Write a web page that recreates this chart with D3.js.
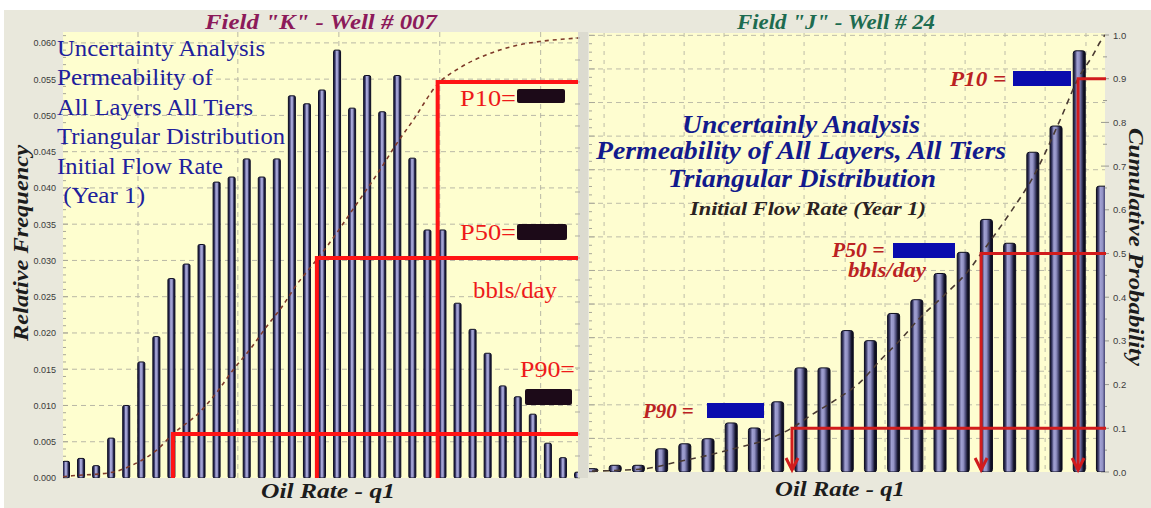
<!DOCTYPE html>
<html><head><meta charset="utf-8">
<script src="https://cdn.jsdelivr.net/npm/d3@7"></script>
<style>html,body{margin:0;padding:0;background:#fff;}svg{display:block;}</style>
</head><body>
<svg id="c" width="1151" height="508"></svg>
<script>
// ---------------- DATA : left panel (Field "K") ----------------
const leftTitle = 'Field "K" - Well # 007';
const leftBins = [0,1,2,3,4,5,6,7,8,9,10,11,12,13,14,15,16,17,18,19,20,21,22,23,24,25,26,27,28,29,30,31,32,33,34];
const leftFreq = [0.0023,0.0027,0.0017,0.0055,0.0100,0.0160,0.0195,0.0275,0.0295,0.0322,
                  0.0408,0.0415,0.0440,0.0415,0.0440,0.0527,0.0516,0.0535,0.0590,0.0510,
                  0.0555,0.0505,0.0555,0.0441,0.0342,0.0342,0.0241,0.0205,0.0172,0.0127,
                  0.0112,0.0088,0.0048,0.0028,0.0008];
const leftCdfBin = [-0.2,0.40,2.92,4.45,6.04,7.10,8.89,10.02,11.08,12.21,13.34,14.40,15.33,16.39,17.52,19.04,20.84,21.96,23.03,24.68,26.14,27.94,29.66,31.45,33.24,34.0];
const leftCdfVal = [0.003,0.005,0.012,0.030,0.064,0.100,0.150,0.195,0.245,0.292,0.345,0.392,0.440,0.485,0.535,0.610,0.700,0.760,0.812,0.895,0.932,0.962,0.981,0.992,0.998,1.0];
const leftYTicks = [0,0.005,0.010,0.015,0.020,0.025,0.030,0.035,0.040,0.045,0.050,0.055,0.060];
const leftYTickLabels = ["0.000","0.005","0.010","0.015","0.020","0.025","0.030","0.035","0.040","0.045","0.050","0.055","0.060"];
const leftGridBins = [4.78,11.41,18.12,24.82,31.52];
const leftPctNames = ["P90","P50","P10"];
const leftPctCdf = [0.1,0.5,0.9];
const leftPctBin = [7.10,16.66,24.68];
const leftNotes = ["Uncertainty Analysis","Permeability of","All Layers All Tiers","Triangular Distribution","Initial Flow Rate"," (Year 1)"];

// ---------------- DATA : right panel (Field "J") ----------------
const rightTitle = 'Field "J" - Well # 24';
const rightBins = [0,1,2,3,4,5,6,7,8,9,10,11,12,13,14,15,16,17,18,19,20,21,22];
const rightFreq = [0.0010,0.0020,0.0020,0.0069,0.0084,0.0099,0.0146,0.0131,0.0209,0.0310,
                   0.0310,0.0421,0.0391,0.0472,0.0513,0.0591,0.0654,0.0752,0.0681,0.0952,
                   0.1030,0.1254,0.0851];
const rightCdfBin = [0.0,1.2,2.37,3.66,5.22,6.38,7.54,8.53,9.53,10.56,11.55,12.41,13.28,14.14,15.13,16.29,16.77,18.02,19.01,20.17,20.95,21.59,21.90,22.11];
const rightCdfVal = [0.002,0.004,0.008,0.023,0.041,0.057,0.074,0.098,0.133,0.167,0.205,0.255,0.302,0.353,0.402,0.465,0.500,0.593,0.675,0.805,0.900,0.954,0.984,1.0];
const rightCumTicks = [0,0.1,0.2,0.3,0.4,0.5,0.6,0.7,0.8,0.9,1.0];
const rightCumTickLabels = ["0.0","0.1","0.2","0.3","0.4","0.5","0.6","0.7","0.8","0.9","1.0"];
const rightFreqGrid = [0.01,0.02,0.03,0.04,0.05,0.06,0.07,0.08,0.09,0.10,0.11,0.12,0.13];
const rightGridBins = [0.52,2.24,3.97,5.69,7.41,9.14,10.91,12.63,14.35,16.08,17.80,19.53,21.29];
const rightPctNames = ["P90","P50","P10"];
const rightPctCdf = [0.1,0.5,0.9];
const rightPctBin = [8.62,16.77,20.95];
const rightNotes = ["Uncertainly Analysis","Permeability of All Layers, All Tiers","Triangular Distribution","Initial Flow Rate (Year 1)"];
const unitsLabel = "bbls/day";
const xLabel = "Oil Rate - q1";

// ---------------- DRAWING ----------------
const W = 1151, H = 508;
const SERIF = "'Liberation Serif','Times New Roman',serif";
const SANS = "'Liberation Sans',Arial,sans-serif";
const svg = d3.select("#c");
svg.append("rect").attr("width", W).attr("height", H).attr("fill", "#ffffff");
svg.append("rect").attr("x", 4).attr("y", 10).attr("width", W - 4).attr("height", H - 10).attr("fill", "#e9e8dc");

const defs = svg.append("defs");
function barGradient(id, stops) {
  const g = defs.append("linearGradient").attr("id", id).attr("x1", "0%").attr("x2", "100%").attr("y1", "0%").attr("y2", "0%");
  stops.forEach(s => g.append("stop").attr("offset", s[0]).attr("stop-color", s[1]));
}
barGradient("barL", [["0%","#141430"],["22%","#3a3a6a"],["40%","#a9a9da"],["62%","#9a9acb"],["80%","#2c2c55"],["100%","#0c0c1e"]]);
barGradient("barR", [["0%","#1a1a33"],["14%","#34345e"],["32%","#a0a0d2"],["50%","#9494c6"],["68%","#50507e"],["84%","#16162c"],["100%","#0a0a18"]]);

function txt(sel, str, x, y, o) {
  const t = sel.append("text").attr("x", x).attr("y", y).text(str)
    .attr("font-family", o.family || SERIF).attr("font-size", o.size)
    .attr("font-weight", o.weight || "normal").attr("font-style", o.style || "normal")
    .attr("fill", o.fill || "#000").attr("text-anchor", o.anchor || "start")
    .style("white-space", "pre");
  if (o.len) t.attr("textLength", o.len).attr("lengthAdjust", "spacingAndGlyphs");
  if (o.rot) t.attr("transform", `rotate(${o.rot},${x},${y})`);
  return t;
}

// ======== LEFT PANEL ========
const L = {x0: 63, x1: 578, y0: 478, y1: 32};
const lx = d3.scaleLinear().domain([-0.2, 34]).range([L.x0, L.x1]);
const ly = d3.scaleLinear().domain([0, 0.0615]).range([L.y0, L.y1]);
const lc = d3.scaleLinear().domain([0, 1.0136]).range([L.y0, L.y1]);
const gl = svg.append("g");
gl.append("rect").attr("x", L.x0).attr("y", L.y1).attr("width", L.x1 - L.x0).attr("height", L.y0 - L.y1).attr("fill", "#fefecf");
// right axis strip of left chart
gl.append("rect").attr("x", L.x1).attr("y", L.y1).attr("width", 10).attr("height", L.y0 - L.y1).attr("fill", "#dcdbd0");
defs.append("clipPath").attr("id", "clipL").append("rect").attr("x", L.x0).attr("y", L.y1).attr("width", L.x1 - L.x0).attr("height", L.y0 - L.y1);

// grid
gl.selectAll("line.hg").data(leftYTicks.slice(1)).join("line")
  .attr("x1", L.x0).attr("x2", L.x1).attr("y1", d => ly(d)).attr("y2", d => ly(d))
  .attr("stroke", "#b9b8a6").attr("stroke-width", 1).attr("stroke-dasharray", "5,4");
gl.selectAll("line.vg").data(leftGridBins).join("line")
  .attr("x1", d => lx(d)).attr("x2", d => lx(d)).attr("y1", L.y1).attr("y2", L.y0)
  .attr("stroke", "#b9b8a6").attr("stroke-width", 1).attr("stroke-dasharray", "5,4");
// minor ticks on left edge
gl.selectAll("line.mt").data(d3.range(0, 0.0611, 0.001)).join("line")
  .attr("x1", L.x0).attr("x2", (d, i) => L.x0 + (i % 5 === 0 ? 5 : 3)).attr("y1", d => ly(d)).attr("y2", d => ly(d))
  .attr("stroke", "#a9a898").attr("stroke-width", 1);
// ticks on the cumulative strip
gl.selectAll("line.ct").data(d3.range(0, 1.001, 0.05)).join("line")
  .attr("x1", L.x1 - 3).attr("x2", L.x1 + 2).attr("y1", d => lc(d)).attr("y2", d => lc(d))
  .attr("stroke", "#b0afa0").attr("stroke-width", 1);

// left axis labels
const axL = d3.axisLeft(ly).tickValues(leftYTicks).tickFormat((d, i) => leftYTickLabels[i]).tickSize(0).tickPadding(7);
const axLg = gl.append("g").attr("transform", `translate(${L.x0},0)`).call(axL);
axLg.select(".domain").remove();
axLg.selectAll("text").attr("font-family", SANS).attr("font-size", 9).attr("fill", "#3a3a3a");

const glc = gl.append("g").attr("clip-path", "url(#clipL)");
// bars
glc.selectAll("rect.bar").data(leftBins).join("rect")
  .attr("x", d => lx(d) - 3.5).attr("width", 7)
  .attr("y", (d, i) => ly(leftFreq[i])).attr("height", (d, i) => ly(0) - ly(leftFreq[i]))
  .attr("rx", 1.5).attr("fill", "url(#barL)").attr("stroke", "#0c0c22").attr("stroke-width", 1);
// cumulative dashed curve
const lCdf = leftCdfBin.map((b, i) => [b, leftCdfVal[i]]);
glc.append("path").datum(lCdf)
  .attr("d", d3.line().x(d => lx(d[0])).y(d => lc(d[1])).curve(d3.curveMonotoneX))
  .attr("fill", "none").attr("stroke", "#7e3a2a").attr("stroke-width", 1.6).attr("stroke-dasharray", "4,4");
// red percentile lines
glc.selectAll("path.pct").data(leftPctBin).join("path")
  .attr("d", (d, i) => `M${lx(d)},${L.y0 + 2}V${lc(leftPctCdf[i])}H${L.x1}`)
  .attr("fill", "none").attr("stroke", "#ff1414").attr("stroke-width", 4);

// left annotations
const blue = "#20209c";
const notesY = [56, 85, 115, 144, 174, 203];
const notesW = [208, 156, 196, 228, 166, 88];
leftNotes.forEach((s, i) => txt(gl, s, 57, notesY[i], {size: 23, fill: blue, len: notesW[i]}));
const redL = "#ee1a1a";
txt(gl, "P10=", 460, 106, {size: 23, fill: redL, len: 56});
txt(gl, "P50=", 460, 240, {size: 23, fill: redL, len: 56});
txt(gl, unitsLabel, 473, 298, {size: 23, fill: redL, len: 84});
txt(gl, "P90=", 520, 377, {size: 23, fill: redL, len: 55});
// redacted value boxes
const redactL = [[517, 89, 48, 14], [517, 224, 50, 16], [525, 389, 47, 16]];
gl.selectAll("rect.red").data(redactL).join("rect")
  .attr("x", d => d[0]).attr("y", d => d[1]).attr("width", d => d[2]).attr("height", d => d[3])
  .attr("rx", 2).attr("fill", "#1c0a18");

// titles and axis labels (left)
txt(gl, leftTitle, 321, 29, {size: 21, weight: "bold", style: "italic", fill: "#8c1a5a", anchor: "middle", len: 232});
txt(gl, "Relative Frequency", 28, 243, {size: 21, weight: "bold", style: "italic", fill: "#1c1c1c", anchor: "middle", len: 196, rot: -90});
txt(gl, xLabel, 328, 498, {size: 20, weight: "bold", style: "italic", fill: "#1c1c1c", anchor: "middle", len: 134});

// ======== RIGHT PANEL ========
const R = {x0: 589, x1: 1105, y0: 472, y1: 33};
const rx = d3.scaleLinear().domain([-0.13, 22.11]).range([R.x0, R.x1]);
const ry = d3.scaleLinear().domain([0, 0.1307]).range([R.y0, R.y1]);
const rc = d3.scaleLinear().domain([0, 1.0046]).range([R.y0, R.y1]);
const gr = svg.append("g");
gr.append("rect").attr("x", R.x0).attr("y", R.y1).attr("width", R.x1 - R.x0).attr("height", R.y0 - R.y1).attr("fill", "#fefdd0");
defs.append("clipPath").attr("id", "clipR").append("rect").attr("x", R.x0).attr("y", R.y1).attr("width", R.x1 - R.x0).attr("height", R.y0 - R.y1);

gr.selectAll("line.hg").data(rightFreqGrid).join("line")
  .attr("x1", R.x0).attr("x2", R.x1).attr("y1", d => ry(d)).attr("y2", d => ry(d))
  .attr("stroke", "#bdbca8").attr("stroke-width", 1).attr("stroke-dasharray", "5,4");
gr.selectAll("line.vg").data(rightGridBins).join("line")
  .attr("x1", d => rx(d)).attr("x2", d => rx(d)).attr("y1", R.y1).attr("y2", R.y0)
  .attr("stroke", "#bdbca8").attr("stroke-width", 1).attr("stroke-dasharray", "4,5");
// left-edge ticks (unlabelled frequency axis)
gr.selectAll("line.mt").data(d3.range(0, 0.1301, 0.0025)).join("line")
  .attr("x1", R.x0).attr("x2", (d, i) => R.x0 + (i % 4 === 0 ? 6 : 3)).attr("y1", d => ry(d)).attr("y2", d => ry(d))
  .attr("stroke", "#aaa999").attr("stroke-width", 1);
// right-edge ticks + labels
gr.selectAll("line.rt").data(d3.range(0, 1.001, 0.05)).join("line")
  .attr("x1", (d, i) => R.x1 - (i % 2 === 0 ? 4 : 2)).attr("x2", (d, i) => R.x1 + (i % 2 === 0 ? 4 : 2)).attr("y1", d => rc(d)).attr("y2", d => rc(d))
  .attr("stroke", "#9a9a90").attr("stroke-width", 1);
const axR = d3.axisRight(rc).tickValues(rightCumTicks).tickFormat((d, i) => rightCumTickLabels[i]).tickSize(0).tickPadding(8);
const axRg = gr.append("g").attr("transform", `translate(${R.x1},0)`).call(axR);
axRg.select(".domain").remove();
axRg.selectAll("text").attr("font-family", SANS).attr("font-size", 9.5).attr("fill", "#3c3c3c");

const grc = gr.append("g").attr("clip-path", "url(#clipR)");
grc.selectAll("rect.bar").data(rightBins).join("rect")
  .attr("x", d => rx(d) - 6).attr("width", 12)
  .attr("y", (d, i) => ry(rightFreq[i])).attr("height", (d, i) => ry(0) - ry(rightFreq[i]))
  .attr("rx", 2.5).attr("fill", "url(#barR)").attr("stroke", "#0c0c1e").attr("stroke-width", 1);
const rCdf = rightCdfBin.map((b, i) => [b, rightCdfVal[i]]);
grc.append("path").datum(rCdf)
  .attr("d", d3.line().x(d => rx(d[0])).y(d => rc(d[1])).curve(d3.curveMonotoneX))
  .attr("fill", "none").attr("stroke", "#4a3a32").attr("stroke-width", 1.6).attr("stroke-dasharray", "6,5");

// red percentile lines with arrowheads
const redR = "#d11c1c";
gr.selectAll("path.pct").data(rightPctBin).join("path")
  .attr("d", (d, i) => `M${R.x1 + 1},${rc(rightPctCdf[i])}H${rx(d)}V${R.y0 - 2}`)
  .attr("fill", "none").attr("stroke", redR).attr("stroke-width", 3);
gr.selectAll("path.arr").data(rightPctBin).join("path")
  .attr("d", d => `M${rx(d) - 6},${R.y0 - 14}L${rx(d)},${R.y0 - 2}L${rx(d) + 6},${R.y0 - 14}`)
  .attr("fill", "none").attr("stroke", redR).attr("stroke-width", 3).attr("stroke-linejoin", "miter");

// right annotations
const navy = "#121a8c";
txt(gr, rightNotes[0], 801, 133, {size: 25, weight: "bold", style: "italic", fill: navy, anchor: "middle", len: 238});
txt(gr, rightNotes[1], 801, 159, {size: 25, weight: "bold", style: "italic", fill: navy, anchor: "middle", len: 410});
txt(gr, rightNotes[2], 802, 187, {size: 25, weight: "bold", style: "italic", fill: navy, anchor: "middle", len: 268});
txt(gr, rightNotes[3], 808, 215, {size: 19, weight: "bold", style: "italic", fill: "#2a2222", anchor: "middle", len: 236});
const redT = "#bb2222";
txt(gr, "P10 = ", 950, 86, {size: 20, weight: "bold", style: "italic", fill: redT, len: 62});
txt(gr, "P50 = ", 832, 257, {size: 20, weight: "bold", style: "italic", fill: redT, len: 58});
txt(gr, unitsLabel, 848, 277, {size: 20, weight: "bold", style: "italic", fill: redT, len: 78});
txt(gr, "P90 = ", 643, 418, {size: 20, weight: "bold", style: "italic", fill: redT, len: 56});
const valBoxR = [[1013, 71, 58, 15], [893, 243, 62, 15], [707, 403, 57, 15]];
gr.selectAll("rect.vb").data(valBoxR).join("rect")
  .attr("x", d => d[0]).attr("y", d => d[1]).attr("width", d => d[2]).attr("height", d => d[3])
  .attr("fill", "#0a0cae");

txt(gr, rightTitle, 836, 29, {size: 21, weight: "bold", style: "italic", fill: "#1d6c50", anchor: "middle", len: 198});
txt(gr, xLabel, 840, 496, {size: 20, weight: "bold", style: "italic", fill: "#1c1c1c", anchor: "middle", len: 130});
txt(gr, "Cumulative Probability", 1129, 247, {size: 22, weight: "bold", style: "italic", fill: "#1c1c1c", anchor: "middle", len: 238, rot: 90});
</script>
</body></html>
